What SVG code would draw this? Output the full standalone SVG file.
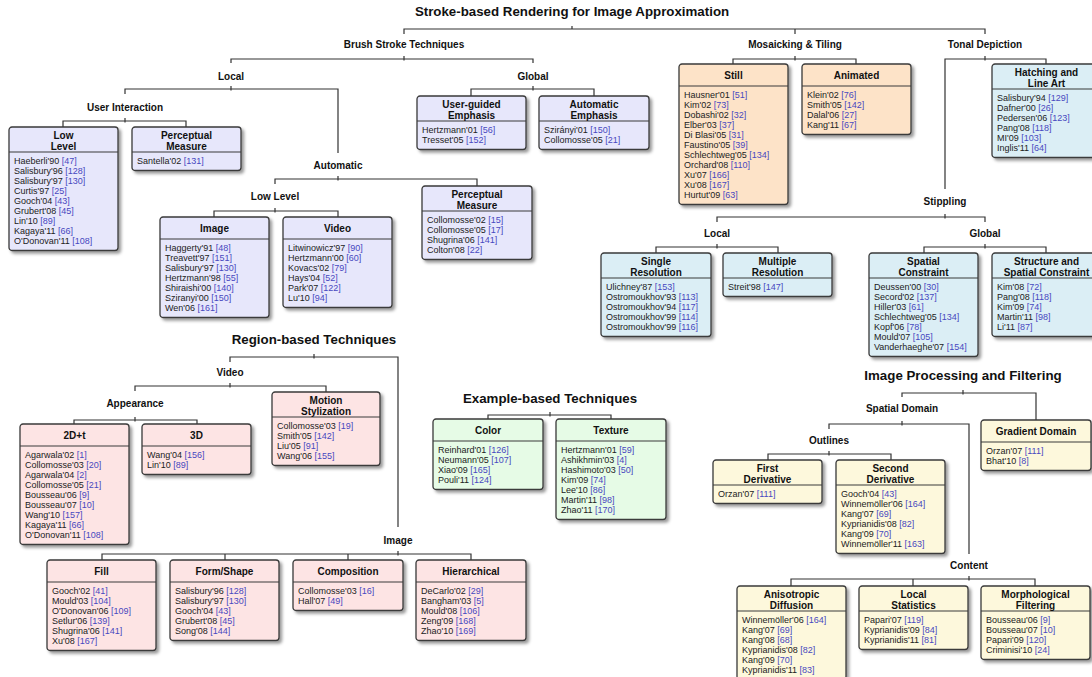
<svg xmlns="http://www.w3.org/2000/svg" width="1092" height="677" viewBox="0 0 1092 677">
<defs>
<filter id="sh" x="-10%" y="-10%" width="130%" height="130%"><feDropShadow dx="2.5" dy="2.5" stdDeviation="1.4" flood-color="#000" flood-opacity="0.4"/></filter>
<style>
.box{stroke:#3a3a3a;stroke-width:1.3;filter:url(#sh)}
.lav{fill:#e7e7fb}.pch{fill:#fde3c8}.blu{fill:#dbeef5}.pnk{fill:#fde4e4}.grn{fill:#e6fbe6}.yel{fill:#fdf8dc}
.sep{stroke:#3a3a3a;stroke-width:1.1}
.hd{font-family:"Liberation Sans",Arial,sans-serif;font-weight:bold;font-size:10px;fill:#111;text-anchor:middle}
.it{font-family:"Liberation Sans",Arial,sans-serif;font-size:9px;fill:#222}
.r{fill:#4848c0}
.lb{font-family:"Liberation Sans",Arial,sans-serif;font-weight:bold;font-size:10px;fill:#111;text-anchor:middle}
.tt{font-family:"Liberation Sans",Arial,sans-serif;font-weight:bold;font-size:13.3px;fill:#111;text-anchor:middle}
.cn{fill:none;stroke:#333;stroke-width:1.2}
</style>
</defs>
<rect width="1092" height="677" fill="#fff"/>

<g id="connectors" class="cn">
<path d="M404 34V29H985V34M795 29V34M572 26V29"/>
<path d="M231 63V59H533V63M404 56V60.5"/>
<path d="M733 64V59H856V64M795 56V60.5"/>
<path d="M945 189V59H1046V64M985 56V60.5"/>
<path d="M125 94V89H338V153M231 86V90.5"/>
<path d="M471 96V89H594V96M533 86V90.5"/>
<path d="M63 127V121H186V127M125 118V122.5"/>
<path d="M275 184V179H477 V186M338 176V180.5"/>
<path d="M214 217V211H338V217M275 208V212.5"/>
<path d="M717 222V217H985V222M945 214V218.5"/>
<path d="M656 253V247H778V253M717 244V248.5"/>
<path d="M924 253V247H1046V253M985 244V248.5"/>
<path d="M902 397V393H1036V420M963 390V394.5"/>
<path d="M829 429V424H969V554M902 421V425.5"/>
<path d="M768 460V454H891V460M829 451V455.5"/>
<path d="M791 586V579H1035V586M913 579V586M969 576V580.5"/>
<path d="M230 362V357H398V527M314 354V358.5"/>
<path d="M135 391V386H326V392M230 383V387.5"/>
<path d="M74 424V420H197V424M135 417V421.5"/>
<path d="M102 560V554H471V560M225 554V560M348 554V560M398 551V555.5"/>
<path d="M488 419V415H611V419M550 412V416.5"/>
</g>

<g id="titles">
<text class="tt" x="572" y="15.5">Stroke-based Rendering for Image Approximation</text>
<text class="tt" x="314" y="343.5">Region-based Techniques</text>
<text class="tt" x="550" y="402.5">Example-based Techniques</text>
<text class="tt" x="963" y="379.5">Image Processing and Filtering</text>
</g>

<g id="labels">
<text class="lb" x="404" y="47.5">Brush Stroke Techniques</text>
<text class="lb" x="795" y="47.5">Mosaicking &amp; Tiling</text>
<text class="lb" x="985" y="47.5">Tonal Depiction</text>
<text class="lb" x="231" y="79.5">Local</text>
<text class="lb" x="533" y="79.5">Global</text>
<text class="lb" x="125" y="110.5">User Interaction</text>
<text class="lb" x="338" y="168.5">Automatic</text>
<text class="lb" x="275" y="199.5">Low Level</text>
<text class="lb" x="945" y="204.5">Stippling</text>
<text class="lb" x="717" y="236.5">Local</text>
<text class="lb" x="985" y="236.5">Global</text>
<text class="lb" x="902" y="411.5">Spatial Domain</text>
<text class="lb" x="829" y="443.5">Outlines</text>
<text class="lb" x="969" y="568.5">Content</text>
<text class="lb" x="230" y="375.5">Video</text>
<text class="lb" x="135" y="406.5">Appearance</text>
<text class="lb" x="398" y="543.5">Image</text>
</g>

<g id="n-low-level" transform="translate(9,127)">
<rect class="box lav" width="109" height="123.5" rx="3"/><line class="sep" x1="0" y1="25" x2="109" y2="25"/>
<text class="hd" x="54.5" y="11.5">Low</text><text class="hd" x="54.5" y="22.5">Level</text>
<text class="it" x="5" y="36.7">Haeberli'90 <tspan class="r">[47]</tspan></text>
<text class="it" x="5" y="46.7">Salisbury'96 <tspan class="r">[128]</tspan></text>
<text class="it" x="5" y="56.7">Salisbury'97 <tspan class="r">[130]</tspan></text>
<text class="it" x="5" y="66.7">Curtis'97 <tspan class="r">[25]</tspan></text>
<text class="it" x="5" y="76.7">Gooch'04 <tspan class="r">[43]</tspan></text>
<text class="it" x="5" y="86.7">Grubert'08 <tspan class="r">[45]</tspan></text>
<text class="it" x="5" y="96.7">Lin'10 <tspan class="r">[89]</tspan></text>
<text class="it" x="5" y="106.7">Kagaya'11 <tspan class="r">[66]</tspan></text>
<text class="it" x="5" y="116.7">O'Donovan'11 <tspan class="r">[108]</tspan></text>
</g>

<g id="n-perceptual-ui" transform="translate(132,127)">
<rect class="box lav" width="109" height="43.5" rx="3"/><line class="sep" x1="0" y1="25" x2="109" y2="25"/>
<text class="hd" x="54.5" y="11.5">Perceptual</text><text class="hd" x="54.5" y="22.5">Measure</text>
<text class="it" x="5" y="36.7">Santella'02 <tspan class="r">[131]</tspan></text>
</g>

<g id="n-image" transform="translate(160,217)">
<rect class="box lav" width="109" height="100.5" rx="3"/><line class="sep" x1="0" y1="22" x2="109" y2="22"/>
<text class="hd" x="54.5" y="14.5">Image</text>
<text class="it" x="5" y="33.7">Haggerty'91 <tspan class="r">[48]</tspan></text>
<text class="it" x="5" y="43.7">Treavett'97 <tspan class="r">[151]</tspan></text>
<text class="it" x="5" y="53.7">Salisbury'97 <tspan class="r">[130]</tspan></text>
<text class="it" x="5" y="63.7">Hertzmann'98 <tspan class="r">[55]</tspan></text>
<text class="it" x="5" y="73.7">Shiraishi'00 <tspan class="r">[140]</tspan></text>
<text class="it" x="5" y="83.7">Sziranyi'00 <tspan class="r">[150]</tspan></text>
<text class="it" x="5" y="93.7">Wen'06 <tspan class="r">[161]</tspan></text>
</g>

<g id="n-video" transform="translate(283,217)">
<rect class="box lav" width="109" height="90.5" rx="3"/><line class="sep" x1="0" y1="22" x2="109" y2="22"/>
<text class="hd" x="54.5" y="14.5">Video</text>
<text class="it" x="5" y="33.7">Litwinowicz'97 <tspan class="r">[90]</tspan></text>
<text class="it" x="5" y="43.7">Hertzmann'00 <tspan class="r">[60]</tspan></text>
<text class="it" x="5" y="53.7">Kovacs'02 <tspan class="r">[79]</tspan></text>
<text class="it" x="5" y="63.7">Hays'04 <tspan class="r">[52]</tspan></text>
<text class="it" x="5" y="73.7">Park'07 <tspan class="r">[122]</tspan></text>
<text class="it" x="5" y="83.7">Lu'10 <tspan class="r">[94]</tspan></text>
</g>

<g id="n-perceptual-auto" transform="translate(422,186)">
<rect class="box lav" width="110" height="73.5" rx="3"/><line class="sep" x1="0" y1="25" x2="110" y2="25"/>
<text class="hd" x="55" y="11.5">Perceptual</text><text class="hd" x="55" y="22.5">Measure</text>
<text class="it" x="5" y="36.7">Collomosse'02 <tspan class="r">[15]</tspan></text>
<text class="it" x="5" y="46.7">Collomosse'05 <tspan class="r">[17]</tspan></text>
<text class="it" x="5" y="56.7">Shugrina'06 <tspan class="r">[141]</tspan></text>
<text class="it" x="5" y="66.7">Colton'08 <tspan class="r">[22]</tspan></text>
</g>

<g id="n-user-guided" transform="translate(417,96)">
<rect class="box lav" width="109" height="53.5" rx="3"/><line class="sep" x1="0" y1="25" x2="109" y2="25"/>
<text class="hd" x="54.5" y="11.5">User-guided</text><text class="hd" x="54.5" y="22.5">Emphasis</text>
<text class="it" x="5" y="36.7">Hertzmann'01 <tspan class="r">[56]</tspan></text>
<text class="it" x="5" y="46.7">Tresset'05 <tspan class="r">[152]</tspan></text>
</g>

<g id="n-auto-emphasis" transform="translate(539,96)">
<rect class="box lav" width="110" height="53.5" rx="3"/><line class="sep" x1="0" y1="25" x2="110" y2="25"/>
<text class="hd" x="55" y="11.5">Automatic</text><text class="hd" x="55" y="22.5">Emphasis</text>
<text class="it" x="5" y="36.7">Szirányi'01 <tspan class="r">[150]</tspan></text>
<text class="it" x="5" y="46.7">Collomosse'05 <tspan class="r">[21]</tspan></text>
</g>

<g id="n-still" transform="translate(679,64)">
<rect class="box pch" width="109" height="140.5" rx="3"/><line class="sep" x1="0" y1="22" x2="109" y2="22"/>
<text class="hd" x="54.5" y="14.5">Still</text>
<text class="it" x="5" y="33.7">Hausner'01 <tspan class="r">[51]</tspan></text>
<text class="it" x="5" y="43.7">Kim'02 <tspan class="r">[73]</tspan></text>
<text class="it" x="5" y="53.7">Dobashi'02 <tspan class="r">[32]</tspan></text>
<text class="it" x="5" y="63.7">Elber'03 <tspan class="r">[37]</tspan></text>
<text class="it" x="5" y="73.7">Di Blasi'05 <tspan class="r">[31]</tspan></text>
<text class="it" x="5" y="83.7">Faustino'05 <tspan class="r">[39]</tspan></text>
<text class="it" x="5" y="93.7">Schlechtweg'05 <tspan class="r">[134]</tspan></text>
<text class="it" x="5" y="103.7">Orchard'08 <tspan class="r">[110]</tspan></text>
<text class="it" x="5" y="113.7">Xu'07 <tspan class="r">[166]</tspan></text>
<text class="it" x="5" y="123.7">Xu'08 <tspan class="r">[167]</tspan></text>
<text class="it" x="5" y="133.7">Hurtut'09 <tspan class="r">[63]</tspan></text>
</g>

<g id="n-animated" transform="translate(802,64)">
<rect class="box pch" width="109" height="70.5" rx="3"/><line class="sep" x1="0" y1="22" x2="109" y2="22"/>
<text class="hd" x="54.5" y="14.5">Animated</text>
<text class="it" x="5" y="33.7">Klein'02 <tspan class="r">[76]</tspan></text>
<text class="it" x="5" y="43.7">Smith'05 <tspan class="r">[142]</tspan></text>
<text class="it" x="5" y="53.7">Dalal'06 <tspan class="r">[27]</tspan></text>
<text class="it" x="5" y="63.7">Kang'11 <tspan class="r">[67]</tspan></text>
</g>

<g id="n-hatching" transform="translate(992,64)">
<rect class="box blu" width="109" height="93.5" rx="3"/><line class="sep" x1="0" y1="25" x2="109" y2="25"/>
<text class="hd" x="54.5" y="11.5">Hatching and</text><text class="hd" x="54.5" y="22.5">Line Art</text>
<text class="it" x="5" y="36.7">Salisbury'94 <tspan class="r">[129]</tspan></text>
<text class="it" x="5" y="46.7">Dafner'00 <tspan class="r">[26]</tspan></text>
<text class="it" x="5" y="56.7">Pedersen'06 <tspan class="r">[123]</tspan></text>
<text class="it" x="5" y="66.7">Pang'08 <tspan class="r">[118]</tspan></text>
<text class="it" x="5" y="76.7">MI'09 <tspan class="r">[103]</tspan></text>
<text class="it" x="5" y="86.7">Inglis'11 <tspan class="r">[64]</tspan></text>
</g>

<g id="n-single-resolution" transform="translate(601,253)">
<rect class="box blu" width="110" height="83.5" rx="3"/><line class="sep" x1="0" y1="25" x2="110" y2="25"/>
<text class="hd" x="55" y="11.5">Single</text><text class="hd" x="55" y="22.5">Resolution</text>
<text class="it" x="5" y="36.7">Ulichney'87 <tspan class="r">[153]</tspan></text>
<text class="it" x="5" y="46.7">Ostromoukhov'93 <tspan class="r">[113]</tspan></text>
<text class="it" x="5" y="56.7">Ostromoukhov'94 <tspan class="r">[117]</tspan></text>
<text class="it" x="5" y="66.7">Ostromoukhov'99 <tspan class="r">[114]</tspan></text>
<text class="it" x="5" y="76.7">Ostromoukhov'99 <tspan class="r">[116]</tspan></text>
</g>

<g id="n-multiple-resolution" transform="translate(723,253)">
<rect class="box blu" width="109" height="43.5" rx="3"/><line class="sep" x1="0" y1="25" x2="109" y2="25"/>
<text class="hd" x="54.5" y="11.5">Multiple</text><text class="hd" x="54.5" y="22.5">Resolution</text>
<text class="it" x="5" y="36.7">Streit'98 <tspan class="r">[147]</tspan></text>
</g>

<g id="n-spatial-constraint" transform="translate(869,253)">
<rect class="box blu" width="109" height="103.5" rx="3"/><line class="sep" x1="0" y1="25" x2="109" y2="25"/>
<text class="hd" x="54.5" y="11.5">Spatial</text><text class="hd" x="54.5" y="22.5">Constraint</text>
<text class="it" x="5" y="36.7">Deussen'00 <tspan class="r">[30]</tspan></text>
<text class="it" x="5" y="46.7">Secord'02 <tspan class="r">[137]</tspan></text>
<text class="it" x="5" y="56.7">Hiller'03 <tspan class="r">[61]</tspan></text>
<text class="it" x="5" y="66.7">Schlechtweg'05 <tspan class="r">[134]</tspan></text>
<text class="it" x="5" y="76.7">Kopf'06 <tspan class="r">[78]</tspan></text>
<text class="it" x="5" y="86.7">Mould'07 <tspan class="r">[105]</tspan></text>
<text class="it" x="5" y="96.7">Vanderhaeghe'07 <tspan class="r">[154]</tspan></text>
</g>

<g id="n-structure" transform="translate(992,253)">
<rect class="box blu" width="109" height="83.5" rx="3"/><line class="sep" x1="0" y1="25" x2="109" y2="25"/>
<text class="hd" x="54.5" y="11.5">Structure and</text><text class="hd" x="54.5" y="22.5">Spatial Constraint</text>
<text class="it" x="5" y="36.7">Kim'08 <tspan class="r">[72]</tspan></text>
<text class="it" x="5" y="46.7">Pang'08 <tspan class="r">[118]</tspan></text>
<text class="it" x="5" y="56.7">Kim'09 <tspan class="r">[74]</tspan></text>
<text class="it" x="5" y="66.7">Martin'11 <tspan class="r">[98]</tspan></text>
<text class="it" x="5" y="76.7">Li'11 <tspan class="r">[87]</tspan></text>
</g>

<g id="n-motion" transform="translate(272,392)">
<rect class="box pnk" width="108" height="73.5" rx="3"/><line class="sep" x1="0" y1="25" x2="108" y2="25"/>
<text class="hd" x="54" y="11.5">Motion</text><text class="hd" x="54" y="22.5">Stylization</text>
<text class="it" x="5" y="36.7">Collomosse'03 <tspan class="r">[19]</tspan></text>
<text class="it" x="5" y="46.7">Smith'05 <tspan class="r">[142]</tspan></text>
<text class="it" x="5" y="56.7">Liu'05 <tspan class="r">[91]</tspan></text>
<text class="it" x="5" y="66.7">Wang'06 <tspan class="r">[155]</tspan></text>
</g>

<g id="n-2dt" transform="translate(20,424)">
<rect class="box pnk" width="109" height="120.5" rx="3"/><line class="sep" x1="0" y1="22" x2="109" y2="22"/>
<text class="hd" x="54.5" y="14.5">2D+t</text>
<text class="it" x="5" y="33.7">Agarwala'02 <tspan class="r">[1]</tspan></text>
<text class="it" x="5" y="43.7">Collomosse'03 <tspan class="r">[20]</tspan></text>
<text class="it" x="5" y="53.7">Agarwala'04 <tspan class="r">[2]</tspan></text>
<text class="it" x="5" y="63.7">Collomosse'05 <tspan class="r">[21]</tspan></text>
<text class="it" x="5" y="73.7">Bousseau'06 <tspan class="r">[9]</tspan></text>
<text class="it" x="5" y="83.7">Bousseau'07 <tspan class="r">[10]</tspan></text>
<text class="it" x="5" y="93.7">Wang'10 <tspan class="r">[157]</tspan></text>
<text class="it" x="5" y="103.7">Kagaya'11 <tspan class="r">[66]</tspan></text>
<text class="it" x="5" y="113.7">O'Donovan'11 <tspan class="r">[108]</tspan></text>
</g>

<g id="n-3d" transform="translate(142,424)">
<rect class="box pnk" width="109" height="50.5" rx="3"/><line class="sep" x1="0" y1="22" x2="109" y2="22"/>
<text class="hd" x="54.5" y="14.5">3D</text>
<text class="it" x="5" y="33.7">Wang'04 <tspan class="r">[156]</tspan></text>
<text class="it" x="5" y="43.7">Lin'10 <tspan class="r">[89]</tspan></text>
</g>

<g id="n-fill" transform="translate(47,560)">
<rect class="box pnk" width="109" height="90.5" rx="3"/><line class="sep" x1="0" y1="22" x2="109" y2="22"/>
<text class="hd" x="54.5" y="14.5">Fill</text>
<text class="it" x="5" y="33.7">Gooch'02 <tspan class="r">[41]</tspan></text>
<text class="it" x="5" y="43.7">Mould'03 <tspan class="r">[104]</tspan></text>
<text class="it" x="5" y="53.7">O'Donovan'06 <tspan class="r">[109]</tspan></text>
<text class="it" x="5" y="63.7">Setlur'06 <tspan class="r">[139]</tspan></text>
<text class="it" x="5" y="73.7">Shugrina'06 <tspan class="r">[141]</tspan></text>
<text class="it" x="5" y="83.7">Xu'08 <tspan class="r">[167]</tspan></text>
</g>

<g id="n-form-shape" transform="translate(170,560)">
<rect class="box pnk" width="109" height="80.5" rx="3"/><line class="sep" x1="0" y1="22" x2="109" y2="22"/>
<text class="hd" x="54.5" y="14.5">Form/Shape</text>
<text class="it" x="5" y="33.7">Salisbury'96 <tspan class="r">[128]</tspan></text>
<text class="it" x="5" y="43.7">Salisbury'97 <tspan class="r">[130]</tspan></text>
<text class="it" x="5" y="53.7">Gooch'04 <tspan class="r">[43]</tspan></text>
<text class="it" x="5" y="63.7">Grubert'08 <tspan class="r">[45]</tspan></text>
<text class="it" x="5" y="73.7">Song'08 <tspan class="r">[144]</tspan></text>
</g>

<g id="n-composition" transform="translate(293,560)">
<rect class="box pnk" width="110" height="50.5" rx="3"/><line class="sep" x1="0" y1="22" x2="110" y2="22"/>
<text class="hd" x="55" y="14.5">Composition</text>
<text class="it" x="5" y="33.7">Collomosse'03 <tspan class="r">[16]</tspan></text>
<text class="it" x="5" y="43.7">Hall'07 <tspan class="r">[49]</tspan></text>
</g>

<g id="n-hierarchical" transform="translate(416,560)">
<rect class="box pnk" width="110" height="80.5" rx="3"/><line class="sep" x1="0" y1="22" x2="110" y2="22"/>
<text class="hd" x="55" y="14.5">Hierarchical</text>
<text class="it" x="5" y="33.7">DeCarlo'02 <tspan class="r">[29]</tspan></text>
<text class="it" x="5" y="43.7">Bangham'03 <tspan class="r">[5]</tspan></text>
<text class="it" x="5" y="53.7">Mould'08 <tspan class="r">[106]</tspan></text>
<text class="it" x="5" y="63.7">Zeng'09 <tspan class="r">[168]</tspan></text>
<text class="it" x="5" y="73.7">Zhao'10 <tspan class="r">[169]</tspan></text>
</g>

<g id="n-color" transform="translate(433,419)">
<rect class="box grn" width="110" height="70.5" rx="3"/><line class="sep" x1="0" y1="22" x2="110" y2="22"/>
<text class="hd" x="55" y="14.5">Color</text>
<text class="it" x="5" y="33.7">Reinhard'01 <tspan class="r">[126]</tspan></text>
<text class="it" x="5" y="43.7">Neumann'05 <tspan class="r">[107]</tspan></text>
<text class="it" x="5" y="53.7">Xiao'09 <tspan class="r">[165]</tspan></text>
<text class="it" x="5" y="63.7">Pouli'11 <tspan class="r">[124]</tspan></text>
</g>

<g id="n-texture" transform="translate(556,419)">
<rect class="box grn" width="110" height="100.5" rx="3"/><line class="sep" x1="0" y1="22" x2="110" y2="22"/>
<text class="hd" x="55" y="14.5">Texture</text>
<text class="it" x="5" y="33.7">Hertzmann'01 <tspan class="r">[59]</tspan></text>
<text class="it" x="5" y="43.7">Ashikhmin'03 <tspan class="r">[4]</tspan></text>
<text class="it" x="5" y="53.7">Hashimoto'03 <tspan class="r">[50]</tspan></text>
<text class="it" x="5" y="63.7">Kim'09 <tspan class="r">[74]</tspan></text>
<text class="it" x="5" y="73.7">Lee'10 <tspan class="r">[86]</tspan></text>
<text class="it" x="5" y="83.7">Martin'11 <tspan class="r">[98]</tspan></text>
<text class="it" x="5" y="93.7">Zhao'11 <tspan class="r">[170]</tspan></text>
</g>

<g id="n-gradient" transform="translate(981,420)">
<rect class="box yel" width="110" height="50.5" rx="3"/><line class="sep" x1="0" y1="22" x2="110" y2="22"/>
<text class="hd" x="55" y="14.5">Gradient Domain</text>
<text class="it" x="5" y="33.7">Orzan'07 <tspan class="r">[111]</tspan></text>
<text class="it" x="5" y="43.7">Bhat'10 <tspan class="r">[8]</tspan></text>
</g>

<g id="n-first-derivative" transform="translate(713,460)">
<rect class="box yel" width="109" height="43.5" rx="3"/><line class="sep" x1="0" y1="25" x2="109" y2="25"/>
<text class="hd" x="54.5" y="11.5">First</text><text class="hd" x="54.5" y="22.5">Derivative</text>
<text class="it" x="5" y="36.7">Orzan'07 <tspan class="r">[111]</tspan></text>
</g>

<g id="n-second-derivative" transform="translate(836,460)">
<rect class="box yel" width="109" height="93.5" rx="3"/><line class="sep" x1="0" y1="25" x2="109" y2="25"/>
<text class="hd" x="54.5" y="11.5">Second</text><text class="hd" x="54.5" y="22.5">Derivative</text>
<text class="it" x="5" y="36.7">Gooch'04 <tspan class="r">[43]</tspan></text>
<text class="it" x="5" y="46.7">Winnemöller'06 <tspan class="r">[164]</tspan></text>
<text class="it" x="5" y="56.7">Kang'07 <tspan class="r">[69]</tspan></text>
<text class="it" x="5" y="66.7">Kyprianidis'08 <tspan class="r">[82]</tspan></text>
<text class="it" x="5" y="76.7">Kang'09 <tspan class="r">[70]</tspan></text>
<text class="it" x="5" y="86.7">Winnemöller'11 <tspan class="r">[163]</tspan></text>
</g>

<g id="n-anisotropic" transform="translate(737,586)">
<rect class="box yel" width="109" height="93.5" rx="3"/><line class="sep" x1="0" y1="25" x2="109" y2="25"/>
<text class="hd" x="54.5" y="11.5">Anisotropic</text><text class="hd" x="54.5" y="22.5">Diffusion</text>
<text class="it" x="5" y="36.7">Winnemöller'06 <tspan class="r">[164]</tspan></text>
<text class="it" x="5" y="46.7">Kang'07 <tspan class="r">[69]</tspan></text>
<text class="it" x="5" y="56.7">Kang'08 <tspan class="r">[68]</tspan></text>
<text class="it" x="5" y="66.7">Kyprianidis'08 <tspan class="r">[82]</tspan></text>
<text class="it" x="5" y="76.7">Kang'09 <tspan class="r">[70]</tspan></text>
<text class="it" x="5" y="86.7">Kyprianidis'11 <tspan class="r">[83]</tspan></text>
</g>

<g id="n-local-statistics" transform="translate(859,586)">
<rect class="box yel" width="109" height="63.5" rx="3"/><line class="sep" x1="0" y1="25" x2="109" y2="25"/>
<text class="hd" x="54.5" y="11.5">Local</text><text class="hd" x="54.5" y="22.5">Statistics</text>
<text class="it" x="5" y="36.7">Papari'07 <tspan class="r">[119]</tspan></text>
<text class="it" x="5" y="46.7">Kyprianidis'09 <tspan class="r">[84]</tspan></text>
<text class="it" x="5" y="56.7">Kyprianidis'11 <tspan class="r">[81]</tspan></text>
</g>

<g id="n-morphological" transform="translate(981,586)">
<rect class="box yel" width="109" height="73.5" rx="3"/><line class="sep" x1="0" y1="25" x2="109" y2="25"/>
<text class="hd" x="54.5" y="11.5">Morphological</text><text class="hd" x="54.5" y="22.5">Filtering</text>
<text class="it" x="5" y="36.7">Bousseau'06 <tspan class="r">[9]</tspan></text>
<text class="it" x="5" y="46.7">Bousseau'07 <tspan class="r">[10]</tspan></text>
<text class="it" x="5" y="56.7">Papari'09 <tspan class="r">[120]</tspan></text>
<text class="it" x="5" y="66.7">Criminisi'10 <tspan class="r">[24]</tspan></text>
</g>
</svg>
